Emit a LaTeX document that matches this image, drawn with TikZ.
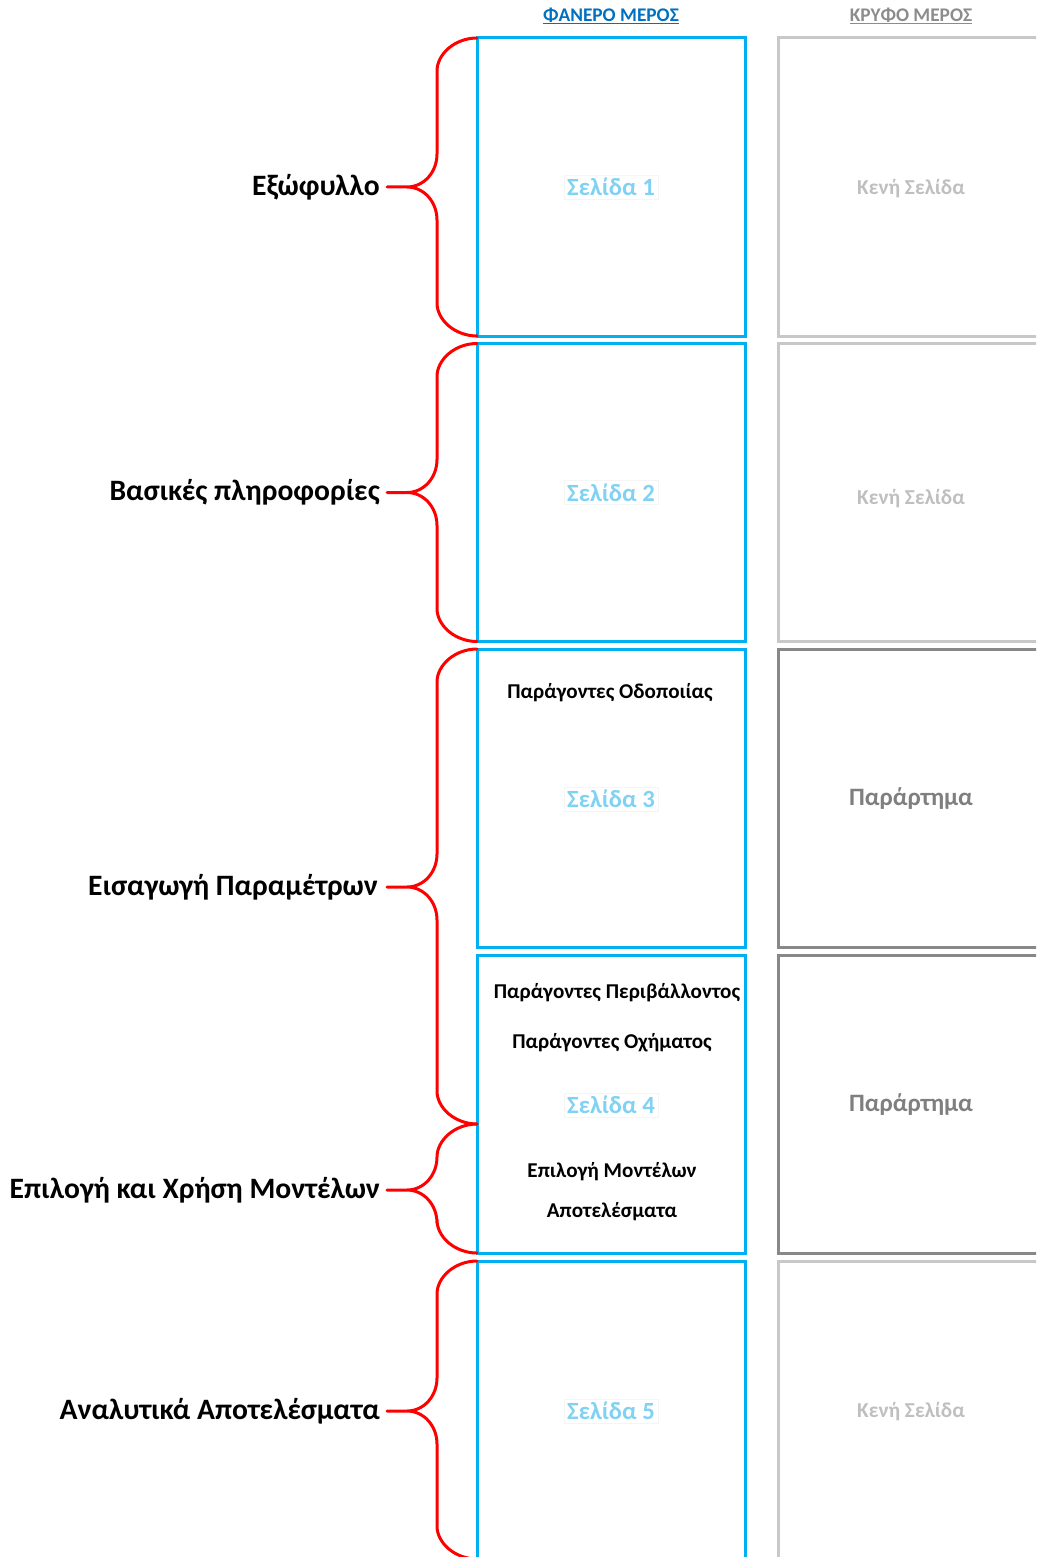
\documentclass[tikz,border=0pt]{standalone}
\usepackage{fontspec}
\setmainfont{Carlito}
\usetikzlibrary{calc}

\definecolor{pageblue}{HTML}{00B0F0}
\definecolor{pagetext}{HTML}{80D2F4}
\definecolor{headblue}{HTML}{0070C0}
\definecolor{headgray}{HTML}{8C8C8C}
\definecolor{lightframe}{HTML}{C8C8C8}
\definecolor{darkframe}{HTML}{888888}
\definecolor{lighttext}{HTML}{BFBFBF}
\definecolor{darktext}{HTML}{7F7F7F}

\tikzset{
  visiblepage/.style={draw=pageblue, line width=3pt, minimum width=268pt, minimum height=298pt, outer sep=0pt, inner sep=0pt},
  blankpage/.style={draw=lightframe, line width=3pt, minimum width=300pt, minimum height=298pt, outer sep=0pt, inner sep=0pt, anchor=north west},
  appendixpage/.style={blankpage, draw=darkframe},
  pagenum/.style={font=\bfseries\fontsize{24.7}{28}\selectfont, text=pagetext, fill=white, draw=black!4, line width=0.4pt, inner sep=3pt},
  blanklabel/.style={font=\bfseries\fontsize{21.3}{24}\selectfont, text=lighttext},
  appendixlabel/.style={font=\bfseries\fontsize{25}{28}\selectfont, text=darktext},
  itemlabel/.style={font=\bfseries\fontsize{21.1}{24}\selectfont, text=black},
  sectionlabel/.style={font=\bfseries\fontsize{29.6}{34}\selectfont, text=black, anchor=east, inner sep=0pt},
  headlabel/.style={font=\bfseries\fontsize{19.3}{22}\selectfont},
  bracestyle/.style={draw=red, line width=3pt, line join=round, line cap=round},
}

% curly brace from the top point #1 through the tip #2 to the bottom point #3
\newcommand\sectionbrace[3]{%
  \draw[bracestyle] (#1) .. controls +(-22,0) and +(0,-17) .. ++(-40,33)
    -- ($(#2)+(50,-33)$) .. controls +(0,18) and +(17,0) .. ($(#2)+(20,0)$)
    -- (#2) -- ($(#2)+(20,0)$)
    .. controls +(17,0) and +(0,-18) .. ($(#2)+(50,33)$)
    -- ($(#3)+(-40,-33)$) .. controls +(0,17) and +(-22,0) .. (#3);}

\begin{document}
\begin{tikzpicture}[x=1pt, y=-1pt]
\useasboundingbox (0,0) rectangle (1036,1557);
\clip (0,0) rectangle (1036,1557);

% column headings
\node[headlabel, text=headblue] (hvis) at (611,16) {\underline{ΦΑΝΕΡΟ ΜΕΡΟΣ}};
\node[headlabel, text=headgray] (hhid) at (911,16) {\underline{ΚΡΥΦΌ ΜΕΡΟΣ}};

% visible pages
\node[visiblepage] (p1) at (611,187) {};
\node[visiblepage] (p2) at (611,492.5) {};
\node[visiblepage] (p3) at (611,798) {};
\node[visiblepage] (p4) at (611,1104) {};
\node[visiblepage] (p5) at (611,1410) {};

\node[pagenum] (n1) at (p1.center) {Σελίδα 1};
\node[pagenum] (n2) at (p2.center) {Σελίδα 2};
\node[pagenum] (n3) at (611,799) {Σελίδα 3};
\node[pagenum] (n4) at (611,1105) {Σελίδα 4};
\node[pagenum] (n5) at (611,1411) {Σελίδα 5};

\node[itemlabel] (road) at (610,693) {Παράγοντες Οδοποιίας};
\node[itemlabel] (env) at (617,993) {Παράγοντες Περιβάλλοντος};
\node[itemlabel] (veh) at (612,1043) {Παράγοντες Οχήματος};
\node[itemlabel] (models) at (612,1172) {Επιλογή Μοντέλων};
\node[itemlabel] (results) at (612,1212) {Αποτελέσματα};

% hidden pages
\node[blankpage] (h1) at (778,38) {};
\node[blankpage] (h2) at (778,343.5) {};
\node[appendixpage] (h3) at (778,649) {};
\node[appendixpage] (h4) at (778,955) {};
\node[blankpage] (h5) at (778,1261) {};

\node[blanklabel] (k1) at (911,189) {Κενή Σελίδα};
\node[blanklabel] (k2) at (911,499) {Κενή Σελίδα};
\node[appendixlabel] (a3) at (911,799) {Παράρτημα};
\node[appendixlabel] (a4) at (911,1105) {Παράρτημα};
\node[blanklabel] (k5) at (911,1412) {Κενή Σελίδα};

% section labels
\node[sectionlabel] (s1) at (380,187) {Εξώφυλλο};
\node[sectionlabel] (s2) at (380,492.5) {Βασικές πληροφορίες};
\node[sectionlabel] (s3) at (378,887) {Εισαγωγή Παραμέτρων};
\node[sectionlabel] (s4) at (380,1190) {Επιλογή και Χρήση Μοντέλων};
\node[sectionlabel] (s5) at (380,1411) {Αναλυτικά Αποτελέσματα};

% brace end points
\coordinate (t1) at (p1.north west); \coordinate (b1) at (p1.south west);
\coordinate (t2) at (p2.north west); \coordinate (b2) at (p2.south west);
\coordinate (t3) at (p3.north west); \coordinate (b3) at (477,1124);
\coordinate (t4) at (477,1124);      \coordinate (b4) at (p4.south west);
\coordinate (t5) at (p5.north west); \coordinate (b5) at (p5.south west);
\coordinate (m1) at ($(s1.east)+(7,0)$);
\coordinate (m2) at ($(s2.east)+(7,0)$);
\coordinate (m3) at ($(s3.east)+(9,0)$);
\coordinate (m4) at ($(s4.east)+(7,0)$);
\coordinate (m5) at ($(s5.east)+(7,0)$);

\sectionbrace{t1}{m1}{b1}
\sectionbrace{t2}{m2}{b2}
\sectionbrace{t3}{m3}{b3}
\sectionbrace{t4}{m4}{b4}
\sectionbrace{t5}{m5}{b5}
\end{tikzpicture}
\end{document}
